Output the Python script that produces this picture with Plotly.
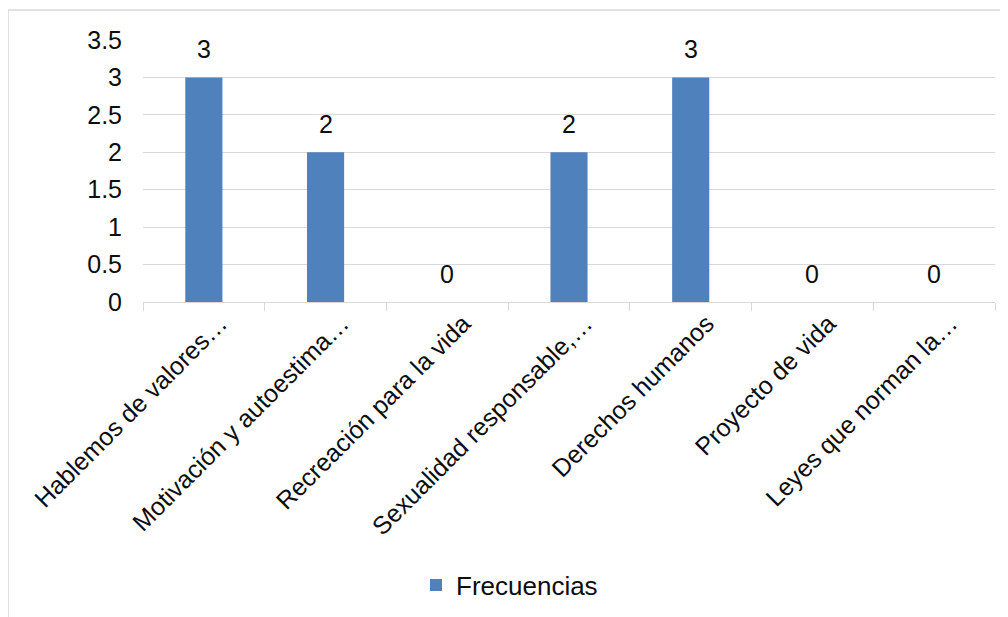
import plotly.graph_objects as go

categories = ["Hablemos de valores…", "Motivación y autoestima…", "Recreación para la vida",
              "Sexualidad responsable,…", "Derechos humanos", "Proyecto de vida", "Leyes que norman la…"]
values = [3, 2, 0, 2, 3, 0, 0]
series_name = "Frecuencias"

# page has an 8px body margin, so the figure is drawn 8px right/down of the window origin
OFF = 8
W, H = 1000, 609
ML, MR, MT, MB = 135, 13, 32, 315
pw, ph = W - ML - MR, H - MT - MB
FONT = "Liberation Sans, Arial"
TXT = "#0d0d0d"


def px_x(p):
    return (p - OFF - ML) / pw


def px_y(p):
    return (H - MB - (p - OFF)) / ph


fig = go.Figure()
fig.add_trace(go.Bar(
    x=categories, y=values, name=series_name,
    marker=dict(color="#4f81bd", line=dict(width=0)),
    hoverinfo="x+y",
))

annotations = []
for c, v in zip(categories, values):
    annotations.append(dict(x=c, y=v, xref="x", yref="y", text=str(v), showarrow=False,
                            yanchor="middle", yshift=28,
                            font=dict(size=25, color=TXT, family=FONT)))

fig.update_layout(
    width=W, height=H,
    margin=dict(l=ML, r=MR, t=MT, b=MB, autoexpand=False),
    paper_bgcolor="white", plot_bgcolor="white",
    font=dict(family=FONT, size=25, color=TXT),
    bargap=0.695,
    showlegend=True,
    legend=dict(orientation="h", x=px_x(416), xanchor="left", y=px_y(585), yanchor="middle",
                font=dict(size=26, color=TXT, family=FONT), bgcolor="rgba(0,0,0,0)"),
    xaxis=dict(showline=True, linecolor="#d9d9d9", linewidth=1, ticks="outside",
               tickson="boundaries", ticklen=8, tickcolor="#d9d9d9", tickangle=-45,
               showgrid=False, tickfont=dict(size=25, color=TXT), automargin=False,
               ticklabelshift=16, ticklabelstandoff=-4),
    yaxis=dict(range=[0, 3.5], dtick=0.5, showgrid=True, gridcolor="#d9d9d9", gridwidth=1,
               zeroline=False, showline=False, ticks="", tickfont=dict(size=25, color=TXT),
               ticklabelstandoff=20, automargin=False),
    annotations=annotations,
    shapes=[
        dict(type="line", xref="paper", yref="paper", x0=px_x(8), x1=px_x(1010),
             y0=px_y(10), y1=px_y(10), line=dict(color="#d9d9d9", width=1.5)),
        dict(type="line", xref="paper", yref="paper", x0=px_x(8), x1=px_x(8),
             y0=px_y(10), y1=px_y(620), line=dict(color="#d9d9d9", width=1.5)),
    ],
)

fig.write_html("out.html")
